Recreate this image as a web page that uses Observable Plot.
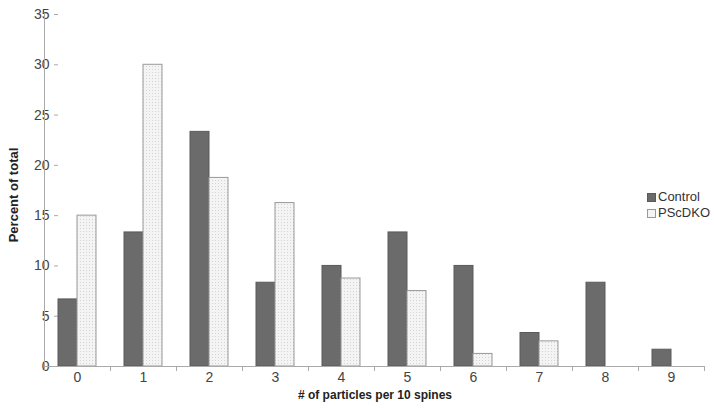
<!DOCTYPE html>
<html><head><meta charset="utf-8">
<script src="https://cdn.jsdelivr.net/npm/d3@7"></script>
<script src="https://cdn.jsdelivr.net/npm/@observablehq/plot@0.6"></script>
<style>
body{margin:0;background:#fff;font-family:"Liberation Sans",Arial,sans-serif;}
#wrap{position:relative;width:714px;height:410px;}
#legend{position:absolute;left:647px;top:189px;font-size:13px;color:#333;line-height:16px;}
#legend .sw{display:inline-block;width:9px;height:9px;margin-right:2px;vertical-align:-1px;box-sizing:border-box;}
svg text.tl{font-size:14px !important;font-family:"Liberation Sans",Arial,sans-serif !important;}
</style></head>
<body><div id="wrap"><div id="legend"></div></div>
<script>
const categories = ["0","1","2","3","4","5","6","7","8","9"];
const series = ["Control","PScDKO"];
const controlValues = [6.67,13.33,23.33,8.33,10,13.33,10,3.33,8.33,1.67];
const pscdkoValues = [15,30,18.75,16.25,8.75,7.5,1.25,2.5,0,0];
const yTicks = [0,5,10,15,20,25,30,35];
const xLabel = "# of particles per 10 spines";
const yLabel = "Percent of total";

const rows = [];
categories.forEach((c,i)=>{
  rows.push({cat:c, series:"Control", value:controlValues[i]});
  rows.push({cat:c, series:"PScDKO", value:pscdkoValues[i]});
});

const plot = Plot.plot({
  width:714, height:410,
  marginLeft:44, marginRight:10, marginTop:14, marginBottom:44,
  style:{fontFamily:"Liberation Sans, Arial, sans-serif", fontSize:"14px", color:"#444"},
  fx:{domain:categories, paddingInner:0.42, paddingOuter:0.21, label:null, axis:"bottom", tickSize:0, tickPadding:6},
  x:{domain:series, padding:0, axis:null},
  y:{domain:[0,35], ticks:yTicks, label:null, tickSize:4, tickPadding:5},
  marks:[
    Plot.barY(rows.filter(d=>d.value>0), {fx:"cat", x:"series", y:"value",
      fill:d=>d.series==="Control"?"#6b6b6b":"url(#dots)",
      stroke:d=>d.series==="Control"?"#5a5a5a":"#999999", strokeWidth:1, inset:0})
  ]
});

const svg = d3.select(plot);
svg.insert("defs",":first-child").html(
  '<pattern id="dots" width="3" height="3" patternUnits="userSpaceOnUse">'+
  '<rect width="3" height="3" fill="#f4f4f4"/><rect x="0" y="0" width="1" height="1" fill="#d4d4d4"/></pattern>');
svg.selectAll('g[aria-label="y-axis tick"] path').attr("stroke","#aaa");
svg.selectAll('g[aria-label$="tick label"] text').classed("tl",true);
const y0 = 366, left = 44, right = 704;
const step = (right-left)/categories.length;
const g = svg.append("g").attr("stroke","#aaa").attr("stroke-width",1);
g.append("line").attr("x1",left).attr("x2",right).attr("y1",y0+0.5).attr("y2",y0+0.5);
g.append("line").attr("x1",left+0.5).attr("x2",left+0.5).attr("y1",14).attr("y2",y0);
for(let k=0;k<=categories.length;k++){
  const x = Math.round(left + k*step)+0.5;
  g.append("line").attr("x1",x).attr("x2",x).attr("y1",y0).attr("y2",y0+5);
}
svg.append("text").attr("x",375).attr("y",399).attr("text-anchor","middle")
  .attr("font-weight","bold").style("font-size","12px").attr("fill","#222").text(xLabel);
svg.append("text").attr("transform","translate(18,195) rotate(-90)").attr("text-anchor","middle")
  .attr("font-weight","bold").style("font-size","13px").attr("fill","#222").text(yLabel);

document.getElementById("wrap").prepend(plot);
const lg = document.getElementById("legend");
series.forEach(s=>{
  const d = document.createElement("div");
  const sw = document.createElement("span");
  sw.className="sw";
  sw.style.background = s==="Control"?"#6b6b6b":"#f4f4f4";
  sw.style.border = "1px solid "+(s==="Control"?"#5a5a5a":"#999999");
  d.appendChild(sw);
  d.appendChild(document.createTextNode(s));
  lg.appendChild(d);
});
</script></body></html>
